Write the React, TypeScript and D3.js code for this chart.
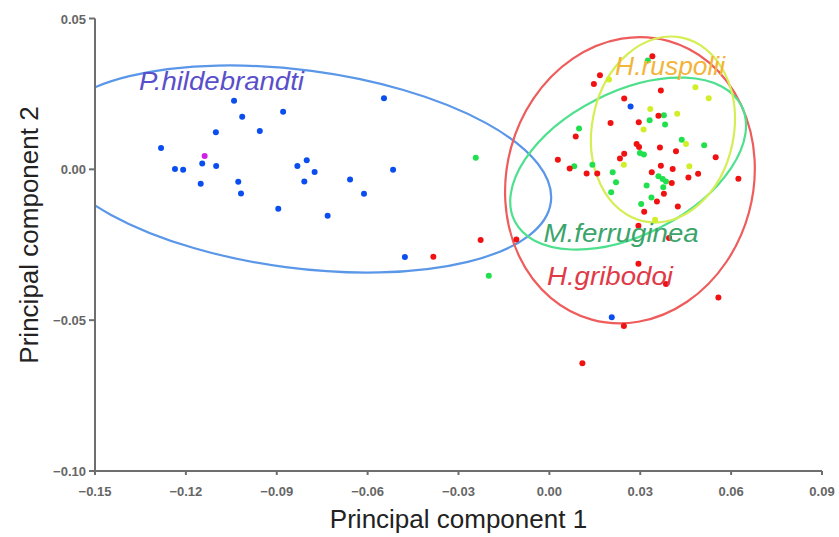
import React from "react";
import * as d3 from "d3";

// ---- data (PC1, PC2) ----
const hildebrandti: [number, number][] = [
  [-0.1282, 0.0071], [-0.1236, 0.0001], [-0.1209, -0.0001], [-0.1151, -0.0048],
  [-0.1146, 0.0019], [-0.1101, 0.0123], [-0.11, 0.0011], [-0.1041, 0.0227],
  [-0.1027, -0.0041], [-0.1018, -0.008], [-0.1014, 0.0174], [-0.0956, 0.0127],
  [-0.0895, -0.0131], [-0.0879, 0.0191], [-0.0832, 0.0011], [-0.0809, -0.004],
  [-0.0801, 0.003], [-0.0775, -0.0009], [-0.0732, -0.0154], [-0.0658, -0.0034],
  [-0.0612, -0.0081], [-0.0546, 0.0236], [-0.0516, -0.0001], [-0.0477, -0.0291],
  [0.0206, -0.049], [0.0268, 0.0208],
];
const hildebrandtiOdd: [number, number][] = [[-0.1138, 0.0044]];

const ferruginea: [number, number][] = [
  [-0.0243, 0.0038], [-0.02, -0.0353], [0.0325, 0.0361], [0.0378, 0.0179],
  [0.0331, 0.0163], [0.0382, 0.0149], [0.0098, 0.0135], [0.0437, 0.0098],
  [0.0511, 0.008], [0.0299, 0.0054], [0.0312, 0.0049], [0.0082, 0.001],
  [0.0142, 0.0015], [0.0209, -0.001], [0.022, -0.0043], [0.0204, -0.0076],
  [0.036, -0.0023], [0.0374, -0.0032], [0.0385, -0.004], [0.0321, -0.0054],
  [0.0376, -0.0059], [0.0337, -0.0093], [0.0303, -0.0115],
];

const ruspolii: [number, number][] = [
  [0.0197, 0.0298], [0.0482, 0.0272], [0.0526, 0.0236], [0.0333, 0.02],
  [0.0422, 0.0184], [0.0311, 0.0132], [0.0451, 0.0084], [0.0246, 0.0015],
  [0.0462, 0.001], [0.0349, -0.0167],
];

const gribodoi: [number, number][] = [
  [-0.0383, -0.029], [-0.0227, -0.0234], [-0.0109, -0.0233], [0.034, 0.0375],
  [0.0167, 0.0312], [0.0147, 0.0283], [0.0368, 0.0261], [0.0247, 0.0235],
  [0.036, 0.0178], [0.0202, 0.0154], [0.0295, 0.0156], [0.0087, 0.0109],
  [0.0288, 0.0084], [0.0296, 0.0074], [0.0365, 0.0072], [0.0418, 0.006],
  [0.0549, 0.004], [0.0028, 0.0032], [0.0247, 0.0052], [0.0233, 0.0036],
  [0.0067, 0.0003], [0.0123, -0.0014], [0.0158, -0.0014], [0.0368, 0.0012],
  [0.0407, 0.0001], [0.0338, -0.001], [0.0459, -0.0027], [0.0491, -0.0015],
  [0.0624, -0.0031], [0.0404, -0.0045], [0.0378, -0.0081], [0.0355, -0.0107],
  [0.0424, -0.0123], [0.0313, -0.0141], [0.0294, -0.0187], [0.0395, -0.0228],
  [0.0294, -0.0313], [0.0385, -0.038], [0.0558, -0.0425], [0.0246, -0.0519],
  [0.0109, -0.0643],
];

// confidence ellipses: centre, semi-axes (data units), rotation (deg)
const ellipseNames = ["hildebrandti", "gribodoi", "ferruginea", "ruspolii"];
const ellipseCx = [-0.0828, 0.0266, 0.026, 0.0375];
const ellipseCy = [0.0001, -0.0036, 0.0019, 0.0132];
const ellipseRx = [0.084, 0.0407, 0.042, 0.0234];
const ellipseRy = [0.0328, 0.0479, 0.0237, 0.0311];
const ellipseAngle = [7.5, 15.3, -27, 11.6];

const xTicks = [-0.15, -0.12, -0.09, -0.06, -0.03, 0.0, 0.03, 0.06, 0.09];
const yTicks = [-0.1, -0.05, 0.0, 0.05];

const labelTexts = ["P.hildebrandti", "H.ruspolii", "M.ferruginea", "H.gribodoi"];
const labelX = [-0.1355, 0.0217, -0.0019, -0.0008];
const labelY = [0.0262, 0.0314, -0.0241, -0.0384];
const labelColors = ["#5a4fcb", "#f2b43a", "#3ba46a", "#e03a48"];
const labelWidths = [165, 110, 155, 126];

const W = 839;
const H = 537;

export default function App() {
  const x = d3.scaleLinear().domain([-0.15, 0.09]).range([95, 822]);
  const y = d3.scaleLinear().domain([-0.1, 0.05]).range([471, 18.5]);

  const ellipseColors = ["#5b97e8", "#ee5c5c", "#4fe08e", "#d6ee55"];

  const dots = (pts: [number, number][], color: string, key: string) =>
    pts.map((p, i) => (
      <circle key={key + i} cx={x(p[0])} cy={y(p[1])} r={3} fill={color} />
    ));

  const axisColor = "#6e6e6e";
  const tickFont = "'Liberation Sans', Arial, sans-serif";

  return (
    <svg
      width={W}
      height={H}
      style={{ position: "absolute", left: 0, top: 0, background: "#fff" }}
    >
      <defs>
        <clipPath id="plot">
          <rect x={96} y={0} width={W - 96} height={472} />
        </clipPath>
      </defs>

      <g clipPath="url(#plot)" fill="none" strokeWidth={2.2}>
        {ellipseNames.map((n, i) => (
          <ellipse
            key={n}
            transform={`translate(${x(ellipseCx[i])},${y(ellipseCy[i])}) rotate(${ellipseAngle[i]})`}
            rx={x(ellipseCx[i] + ellipseRx[i]) - x(ellipseCx[i])}
            ry={y(ellipseCy[i]) - y(ellipseCy[i] + ellipseRy[i])}
            stroke={ellipseColors[i]}
          />
        ))}
      </g>

      <g>
        {dots(ferruginea, "#20e04e", "f")}
        {dots(ruspolii, "#d2ee28", "r")}
        {dots(gribodoi, "#f01212", "g")}
        {dots(hildebrandti, "#0a4ef0", "h")}
        {dots(hildebrandtiOdd, "#d020e8", "m")}
      </g>

      {labelTexts.map((t, i) => (
        <text
          key={t}
          x={x(labelX[i])}
          y={y(labelY[i])}
          fill={labelColors[i]}
          fontSize={25}
          fontStyle="italic"
          fontFamily="'Liberation Sans', Arial, sans-serif"
          textLength={labelWidths[i]}
          lengthAdjust="spacingAndGlyphs"
        >
          {t}
        </text>
      ))}

      {/* axes */}
      <g stroke={axisColor} strokeWidth={2} fill="none">
        <line x1={x(-0.15)} x2={x(-0.15)} y1={y(0.05)} y2={y(-0.1)} />
        <line x1={x(-0.15)} x2={x(0.09)} y1={y(-0.1)} y2={y(-0.1)} />
        {yTicks.map((t) => (
          <line key={"yt" + t} x1={x(-0.15) - 6} x2={x(-0.15)} y1={y(t)} y2={y(t)} />
        ))}
        {xTicks.map((t) => (
          <line key={"xt" + t} x1={x(t)} x2={x(t)} y1={y(-0.1)} y2={y(-0.1) + 4} />
        ))}
      </g>
      <g fill="#666" fontSize={13} fontFamily={tickFont} fontWeight="bold">
        {yTicks.map((t) => (
          <text key={"yl" + t} x={x(-0.15) - 9} y={y(t) + 5} textAnchor="end">
            {d3.format(".2f")(t)}
          </text>
        ))}
        {xTicks.map((t) => (
          <text key={"xl" + t} x={x(t)} y={y(-0.1) + 25} textAnchor="middle">
            {d3.format(".2f")(t)}
          </text>
        ))}
      </g>

      <text
        x={(x(-0.15) + x(0.09)) / 2}
        y={528}
        textAnchor="middle"
        fontSize={26}
        fill="#222"
        fontFamily={tickFont}
      >
        Principal component 1
      </text>
      <text
        transform={`translate(38,${235}) rotate(-90)`}
        textAnchor="middle"
        fontSize={26}
        fill="#222"
        fontFamily={tickFont}
      >
        Principal component 2
      </text>
    </svg>
  );
}
